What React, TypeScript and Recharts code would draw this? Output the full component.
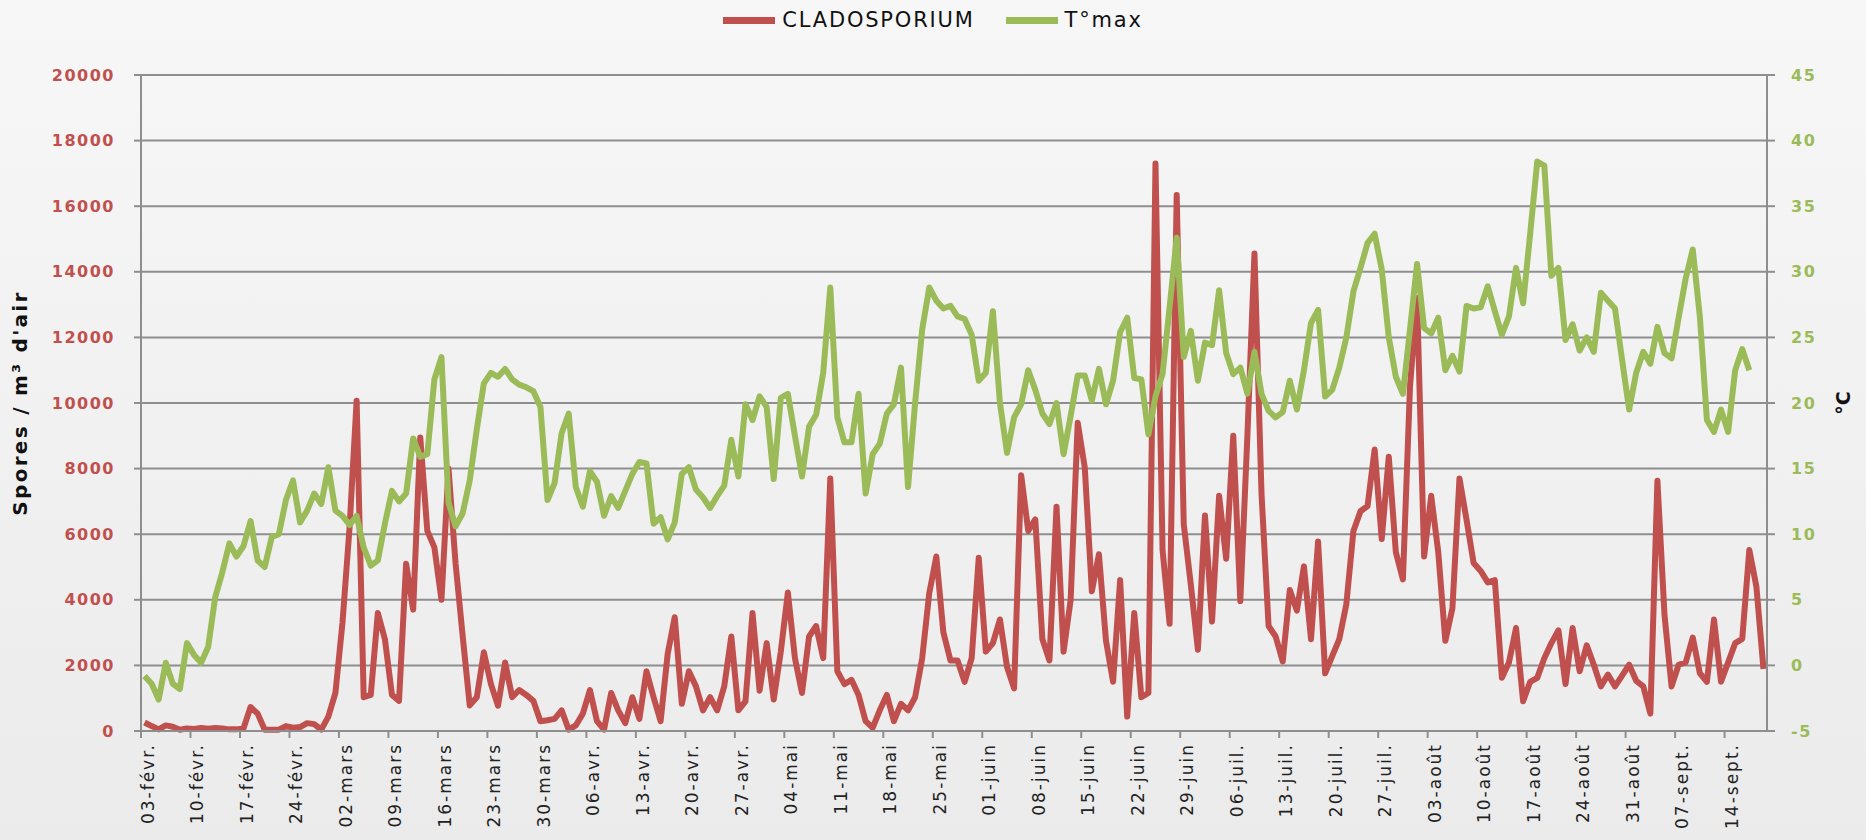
import React from "react";
import {
  LineChart,
  Line,
  XAxis,
  YAxis,
  CartesianGrid,
  Legend,
} from "recharts";

// weekly tick labels (one every 7 days, starting 03-févr.)
const tickLabels = [
  "03-févr.", "10-févr.", "17-févr.", "24-févr.", "02-mars", "09-mars",
  "16-mars", "23-mars", "30-mars", "06-avr.", "13-avr.", "20-avr.",
  "27-avr.", "04-mai", "11-mai", "18-mai", "25-mai", "01-juin",
  "08-juin", "15-juin", "22-juin", "29-juin", "06-juil.", "13-juil.",
  "20-juil.", "27-juil.", "03-août", "10-août", "17-août", "24-août",
  "31-août", "07-sept.", "14-sept.",
];

// daily spore counts (spores / m3 of air), from 03-févr.
const spores = [
  260, 150, 50, 170, 130, 40, 80, 60, 90, 70,
  90, 80, 50, 50, 80, 730, 530, 40, 40, 40,
  150, 100, 120, 240, 210, 40, 440, 1160, 3300, 6200,
  10070, 1030, 1100, 3600, 2800, 1100, 920, 5100, 3700, 8950,
  6100, 5600, 4000, 8000, 5100, 2900, 780, 1030, 2400, 1430,
  770, 2090, 1030, 1250, 1100, 920, 300, 330, 370, 630,
  40, 170, 530, 1250, 300, 40, 1160, 630, 240, 1030,
  370, 1820, 1030, 300, 2350, 3470, 830, 1820, 1360, 630,
  1030, 630, 1360, 2880, 630, 900, 3600, 1230, 2680, 960,
  2420, 4220, 2220, 1160, 2880, 3200, 2220, 7700, 1820, 1430,
  1560, 1100, 300, 100, 630, 1100, 300, 830, 630, 1030,
  2220, 4200, 5320, 3000, 2150, 2150, 1500, 2220, 5280, 2420,
  2680, 3400, 1950, 1300, 7800, 6100, 6450, 2800, 2150, 6840,
  2420, 4000, 9400, 8030, 4260, 5390, 2750, 1500, 4600, 440,
  3600, 1030, 1160, 17300, 5520, 3270, 16340, 6300, 4460, 2480,
  6570, 3340, 7170, 5250, 9000, 3960, 9000, 14560, 7230, 3200,
  2880, 2120, 4300, 3670, 5020, 2800, 5780, 1760, 2280, 2800,
  3870, 6100, 6700, 6860, 8580, 5850, 8360, 5450, 4620, 10500,
  13200, 5320, 7170, 5450, 2750, 3740, 7700, 6440, 5120, 4880,
  4530, 4600, 1620, 2090, 3140, 910, 1500, 1620, 2220, 2680,
  3070, 1430, 3140, 1820, 2610, 2020, 1360, 1720, 1360, 1690,
  2020, 1530, 1360, 530, 7630, 3540, 1360, 2020, 2090, 2850,
  1760, 1500, 3400, 1500, 2090, 2680, 2810, 5520, 4400, 1890,
];

// daily max temperature (°C)
const tmax = [
  -0.8, -1.4, -2.6, 0.2, -1.4, -1.8, 1.7, 0.8, 0.2, 1.4,
  5.2, 7.1, 9.3, 8.3, 9.1, 11.0, 8.0, 7.5, 9.8, 10.0,
  12.6, 14.1, 10.9, 11.8, 13.1, 12.3, 15.1, 11.8, 11.4, 10.7,
  11.4, 9.0, 7.6, 8.0, 10.8, 13.3, 12.5, 13.1, 17.3, 15.9,
  16.1, 21.8, 23.5, 12.4, 10.6, 11.6, 14.1, 18.0, 21.5, 22.3,
  22.0, 22.6, 21.8, 21.4, 21.2, 20.9, 19.7, 12.6, 13.9, 17.7,
  19.2, 13.6, 12.1, 14.8, 14.0, 11.4, 12.9, 12.0, 13.3, 14.6,
  15.5, 15.4, 10.8, 11.3, 9.6, 10.9, 14.6, 15.1, 13.4, 12.8,
  12.0, 12.9, 13.7, 17.2, 14.4, 19.9, 18.7, 20.5, 19.7, 14.2,
  20.4, 20.7, 17.5, 14.4, 18.2, 19.1, 22.3, 28.8, 18.9, 17.0,
  17.0, 20.7, 13.1, 16.1, 16.9, 19.2, 19.9, 22.7, 13.6, 20.0,
  25.6, 28.8, 27.8, 27.2, 27.4, 26.6, 26.4, 25.2, 21.7, 22.3,
  27.0, 20.0, 16.2, 18.9, 19.9, 22.5, 21.0, 19.2, 18.4, 20.0,
  16.1, 19.0, 22.1, 22.1, 20.2, 22.6, 19.9, 21.7, 25.4, 26.5,
  21.9, 21.8, 17.6, 20.5, 22.2, 27.3, 32.6, 23.5, 25.5, 21.7,
  24.6, 24.4, 28.6, 23.8, 22.2, 22.7, 20.7, 23.9, 20.7, 19.4,
  18.9, 19.3, 21.7, 19.5, 22.5, 26.1, 27.1, 20.5, 21.0, 22.7,
  25.0, 28.5, 30.3, 32.2, 32.9, 30.2, 25.0, 22.0, 20.7, 25.6,
  30.6, 25.7, 25.3, 26.5, 22.5, 23.6, 22.4, 27.4, 27.2, 27.3,
  28.9, 27.0, 25.2, 26.6, 30.3, 27.6, 32.9, 38.4, 38.1, 29.7,
  30.3, 24.8, 26.0, 24.0, 25.0, 23.9, 28.4, 27.8, 27.2, 23.3,
  19.5, 22.3, 23.9, 23.0, 25.8, 23.8, 23.4, 26.5, 29.5, 31.7,
  26.6, 18.7, 17.8, 19.5, 17.8, 22.5, 24.1, 22.5, null, null,
];

const sporeTicks = [0, 2000, 4000, 6000, 8000, 10000, 12000, 14000, 16000, 18000, 20000];
const tempTicks = [-5, 0, 5, 10, 15, 20, 25, 30, 35, 40, 45];

const RED = "#C0504D";
const GREEN = "#9BBB59";
const GRID = "#8e8e8e";
const FONT = "'DejaVu Sans', sans-serif";

// each day sits in the middle of its slot
const data = spores.map((s, i) => ({ x: i + 0.5, spores: s, tmax: tmax[i] }));
const dayTicks = tickLabels.map((_, i) => i * 7);

const XTick = (props: any) => {
  const { x, y, payload } = props;
  const tx = x + 7;
  return (
    <text
      x={tx}
      y={y}
      transform={`rotate(-90 ${tx} ${y})`}
      textAnchor="end"
      dominantBaseline="central"
      fill="#222"
      fontSize={17}
      letterSpacing={2}
      fontFamily={FONT}
    >
      {tickLabels[Math.round(payload.value / 7)]}
    </text>
  );
};

const renderLegend = (props: any) => {
  const items = props.payload || [];
  return (
    <div
      style={{
        display: "flex",
        justifyContent: "center",
        alignItems: "center",
        height: 28,
        fontFamily: FONT,
        fontSize: 21,
        letterSpacing: 1.8,
        color: "#111",
      }}
    >
      {items.map((it: any, i: number) => (
        <span key={i} style={{ display: "flex", alignItems: "center", marginLeft: i ? 31 : 0 }}>
          <span style={{ width: 52, height: 7, background: it.color, marginRight: 7 }} />
          <span>{it.value}</span>
        </span>
      ))}
    </div>
  );
};

const App: React.FC = () => {
  return (
    <div
      style={{
        position: "fixed",
        left: 0,
        top: 0,
        width: 1866,
        height: 840,
        background: "linear-gradient(#f7f7f8, #ebebeb)",
      }}
    >
      <LineChart width={1866} height={840} data={data} margin={{ top: 47, right: 0, bottom: 0, left: 0 }}>
        <CartesianGrid yAxisId="left" vertical={false} stroke={GRID} strokeWidth={2} />
        <XAxis
          dataKey="x"
          type="number"
          domain={[0, 230]}
          ticks={dayTicks}
          interval={0}
          height={109}
          tick={<XTick />}
          tickSize={7}
          tickMargin={5}
          axisLine={{ stroke: GRID, strokeWidth: 2 }}
          tickLine={{ stroke: GRID, strokeWidth: 2 }}
        />
        <YAxis
          yAxisId="left"
          width={141}
          domain={[0, 20000]}
          ticks={sporeTicks}
          interval={0}
          tickSize={7}
          tickMargin={19}
          axisLine={{ stroke: GRID, strokeWidth: 2 }}
          tickLine={{ stroke: GRID, strokeWidth: 2 }}
          tick={{ fill: RED, fontSize: 16, fontWeight: "bold", fontFamily: FONT, letterSpacing: 1.5 }}
          label={{
            value: "Spores / m³ d'air",
            angle: -90,
            position: "insideLeft",
            offset: 20,
            textAnchor: "middle",
            style: { fill: "#111", fontSize: 20, fontWeight: "bold", fontFamily: FONT, letterSpacing: 2.3, textAnchor: "middle" },
          }}
        />
        <YAxis
          yAxisId="right"
          orientation="right"
          width={99}
          domain={[-5, 45]}
          ticks={tempTicks}
          interval={0}
          tickSize={8}
          tickMargin={16}
          axisLine={{ stroke: GRID, strokeWidth: 2 }}
          tickLine={{ stroke: GRID, strokeWidth: 2 }}
          tick={{ fill: GREEN, fontSize: 16, fontWeight: "bold", fontFamily: FONT, letterSpacing: 1.5, textAnchor: "start" }}
          label={{
            value: "°C",
            angle: -90,
            position: "insideRight",
            offset: 23,
            textAnchor: "middle",
            style: { fill: "#111", fontSize: 19, fontWeight: "bold", fontFamily: FONT, textAnchor: "middle" },
          }}
        />
        <Legend
          verticalAlign="top"
          align="center"
          wrapperStyle={{ top: 6, left: 0, width: 1866 }}
          content={renderLegend}
        />
        <Line
          yAxisId="left"
          type="linear"
          dataKey="spores"
          name="CLADOSPORIUM"
          stroke={RED}
          strokeWidth={6}
          strokeLinejoin="round"
          dot={false}
          isAnimationActive={false}
        />
        <Line
          yAxisId="right"
          type="linear"
          dataKey="tmax"
          name="T°max"
          stroke={GREEN}
          strokeWidth={6}
          strokeLinejoin="round"
          dot={false}
          isAnimationActive={false}
        />
      </LineChart>
    </div>
  );
};

export default App;
